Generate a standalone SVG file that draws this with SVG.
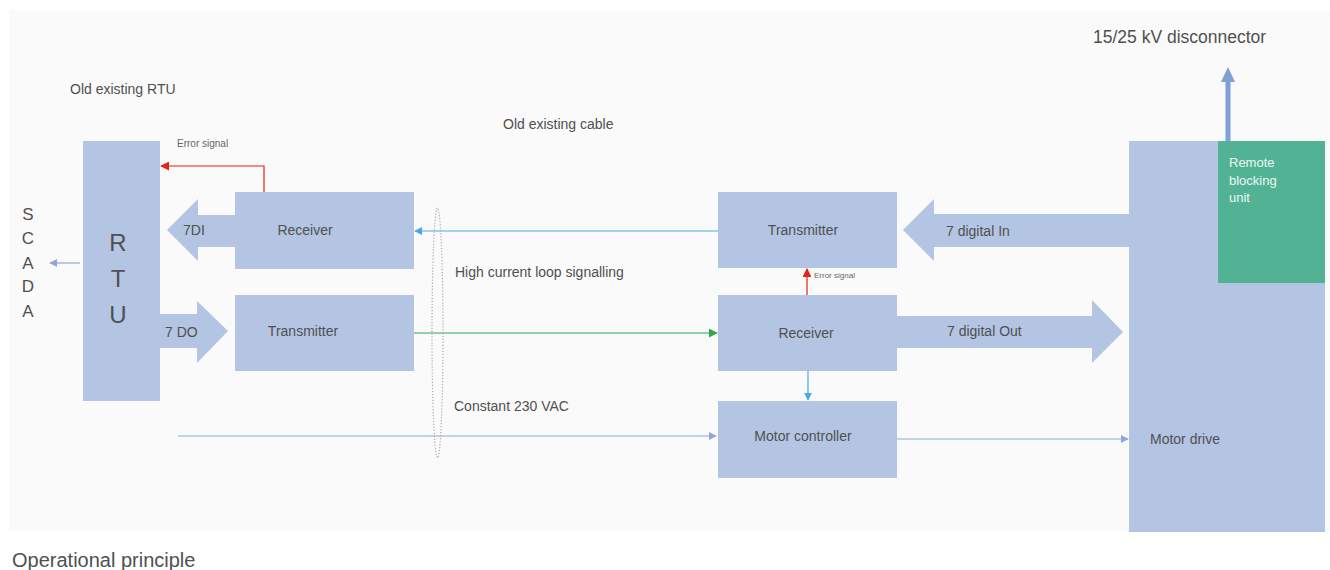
<svg xmlns="http://www.w3.org/2000/svg" width="1330" height="570" viewBox="0 0 1330 570">
<defs>
<style>
text{font-family:"Liberation Sans",Arial,sans-serif;fill:#505050}
.box{fill:#b3c5e3}
.lbl{font-size:14px}
.big{font-size:24px;text-anchor:middle}
.sc{font-size:17px;text-anchor:middle}
.sm{font-size:10px;fill:#666}
.xs{font-size:8px;fill:#666}
</style>
<marker id="mBlue" viewBox="0 0 10 10" refX="9" refY="5" markerWidth="8" markerHeight="8" markerUnits="userSpaceOnUse" orient="auto"><path d="M0,0 L10,5 L0,10 z" fill="#4aa9e2"/></marker>
<marker id="mGreen" viewBox="0 0 10 10" refX="9" refY="5" markerWidth="9" markerHeight="9" markerUnits="userSpaceOnUse" orient="auto"><path d="M0,0 L10,5 L0,10 z" fill="#2fa84a"/></marker>
<marker id="mRed" viewBox="0 0 10 10" refX="9" refY="5" markerWidth="9" markerHeight="9" markerUnits="userSpaceOnUse" orient="auto"><path d="M0,0 L10,5 L0,10 z" fill="#e2231a"/></marker>
<marker id="mGray" viewBox="0 0 10 10" refX="9" refY="5" markerWidth="8" markerHeight="8" markerUnits="userSpaceOnUse" orient="auto"><path d="M0,0 L10,5 L0,10 z" fill="#8fa8d6"/></marker>
</defs>
<rect x="0" y="0" width="1330" height="570" fill="#ffffff"/>
<rect x="9" y="10" width="1321" height="521" fill="#fafafa"/>

<text x="70" y="94" class="lbl">Old existing RTU</text>
<text x="503" y="129" class="lbl">Old existing cable</text>
<text x="1093" y="43" style="font-size:17.5px">15/25 kV disconnector</text>
<text x="455" y="277" class="lbl">High current loop signalling</text>
<text x="454" y="411" class="lbl">Constant 230 VAC</text>
<text x="12" y="567" style="font-size:20px">Operational principle</text>

<g id="scada">
<text x="28" y="220" class="sc">S</text>
<text x="28" y="244" class="sc">C</text>
<text x="28" y="269" class="sc">A</text>
<text x="28" y="292" class="sc">D</text>
<text x="28" y="317" class="sc">A</text>
</g>

<g id="rtu">
<rect class="box" x="83" y="141" width="77" height="260"/>
<text x="118" y="251" class="big">R</text>
<text x="118" y="287" class="big">T</text>
<text x="118" y="323" class="big">U</text>
</g>

<g id="arrow-7di">
<polygon class="box" points="167,230 198,199 198,215 235,215 235,247 198,247 198,261"/>
<text x="183" y="235" class="lbl">7DI</text>
</g>
<g id="arrow-7do">
<polygon class="box" points="160,314 197,314 197,301 228,331 197,363 197,348 160,348"/>
<text x="165" y="337" class="lbl">7 DO</text>
</g>

<g id="receiver-left">
<rect class="box" x="235" y="192" width="179" height="77"/>
<text x="305" y="235" class="lbl" text-anchor="middle">Receiver</text>
</g>
<g id="transmitter-left">
<rect class="box" x="235" y="295" width="179" height="76"/>
<text x="303" y="336" class="lbl" text-anchor="middle">Transmitter</text>
</g>

<g id="transmitter-right">
<rect class="box" x="718" y="192" width="179" height="76"/>
<text x="803" y="235" class="lbl" text-anchor="middle">Transmitter</text>
</g>
<g id="receiver-right">
<rect class="box" x="718" y="295" width="179" height="76"/>
<text x="806" y="338" class="lbl" text-anchor="middle">Receiver</text>
</g>
<g id="motor-controller">
<rect class="box" x="718" y="401" width="179" height="77"/>
<text x="803" y="441" class="lbl" text-anchor="middle">Motor controller</text>
</g>

<g id="arrow-7in">
<polygon class="box" points="903,230 934,199 934,214 1129,214 1129,247 934,247 934,261"/>
<text x="946" y="236" class="lbl">7 digital In</text>
</g>
<g id="arrow-7out">
<polygon class="box" points="897,316 1092,316 1092,300 1123,332 1092,363 1092,348 897,348"/>
<text x="947" y="336" class="lbl">7 digital Out</text>
</g>

<g id="motor-drive">
<rect class="box" x="1129" y="141" width="196" height="391"/>
<text x="1150" y="444" class="lbl">Motor drive</text>
</g>
<g id="remote-blocking">
<rect x="1218" y="141" width="107" height="142" fill="#52b394"/>
<text x="1229" y="167" style="font-size:13px;fill:#eef7f3">Remote</text>
<text x="1229" y="185" style="font-size:13px;fill:#eef7f3">blocking</text>
<text x="1229" y="202" style="font-size:13px;fill:#eef7f3">unit</text>
</g>

<g id="connectors">
<line x1="80" y1="263" x2="50" y2="263" stroke="#8fa8d6" stroke-width="1.2" marker-end="url(#mGray)"/>
<polyline points="264,192 264,166 161,166" fill="none" stroke="#e2231a" stroke-width="1.2" marker-end="url(#mRed)"/>
<text x="177" y="147" class="sm">Error signal</text>
<line x1="718" y1="231" x2="415" y2="231" stroke="#4aa9e2" stroke-width="1.2" marker-end="url(#mBlue)"/>
<line x1="414" y1="333" x2="717" y2="333" stroke="#2fa84a" stroke-width="1.2" marker-end="url(#mGreen)"/>
<line x1="178" y1="436" x2="716" y2="436" stroke="#8fa8d6" stroke-width="1.2" marker-end="url(#mGray)"/>
<line x1="807" y1="295" x2="807" y2="269" stroke="#e2231a" stroke-width="1.2" marker-end="url(#mRed)"/>
<text x="814" y="278" class="xs">Error signal</text>
<line x1="808" y1="371" x2="808" y2="400" stroke="#4aa9e2" stroke-width="1.2" marker-end="url(#mBlue)"/>
<line x1="897" y1="439" x2="1128" y2="439" stroke="#8fa8d6" stroke-width="1.2" marker-end="url(#mGray)"/>
<line x1="1228" y1="141" x2="1228" y2="80" stroke="#7f9fd6" stroke-width="5"/>
<polygon points="1228,67 1235,82 1221,82" fill="#7f9fd6"/>
<ellipse cx="437.5" cy="333" rx="5.5" ry="125" fill="none" stroke="#b0a8a0" stroke-width="1.2" stroke-dasharray="1.2,1.8"/>
</g>
</svg>
